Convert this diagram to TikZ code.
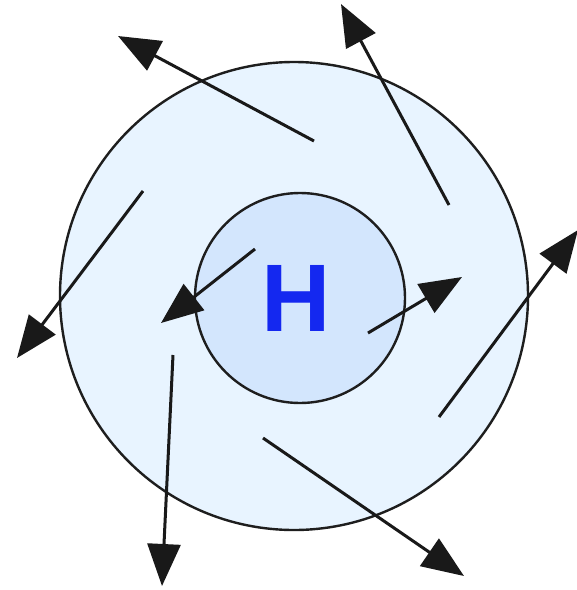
\documentclass[tikz,border=0pt]{standalone}
\usepackage{fontspec}
\setmainfont{Liberation Sans}
\usetikzlibrary{arrows.meta}
\definecolor{outerfill}{RGB}{232,244,255}
\definecolor{innerfill}{RGB}{211,230,253}
\definecolor{hblue}{RGB}{20,40,240}
\definecolor{rim}{RGB}{30,30,30}
\begin{document}
\begin{tikzpicture}[x=1pt,y=-1pt,
  ring/.style={circle,draw=rim,line width=2.4pt,inner sep=0pt},
  wind/.style={line width=3pt,draw=black!90,-{Triangle[length=42pt,width=33pt]}},
  label/.style={font=\fontsize{96}{96}\selectfont\bfseries,text=hblue,inner sep=0pt}]
\path[use as bounding box,fill=white] (0,0) rectangle (577,590);
\node[ring,fill=outerfill,minimum size=468pt] (outer) at (294,296) {};
\node[ring,fill=innerfill,minimum size=210pt] (inner) at (300,298) {};
\node[label] (h) at (296,298) {H};
% arrow end points
\coordinate (a1s) at (314,141); \coordinate (a1e) at (118,36);
\coordinate (a2s) at (449,205); \coordinate (a2e) at (341,4);
\coordinate (a3s) at (143,191); \coordinate (a3e) at (17,358);
\coordinate (a4s) at (255,249); \coordinate (a4e) at (161,323);
\coordinate (a5s) at (368,333); \coordinate (a5e) at (462,277);
\coordinate (a6s) at (439,417); \coordinate (a6e) at (578,230);
\coordinate (a7s) at (173,355); \coordinate (a7e) at (162,586);
\coordinate (a8s) at (263,438); \coordinate (a8e) at (464,576);
\foreach \i in {1,...,8}{\draw[wind] (a\i s) -- (a\i e);}
\end{tikzpicture}
\end{document}
